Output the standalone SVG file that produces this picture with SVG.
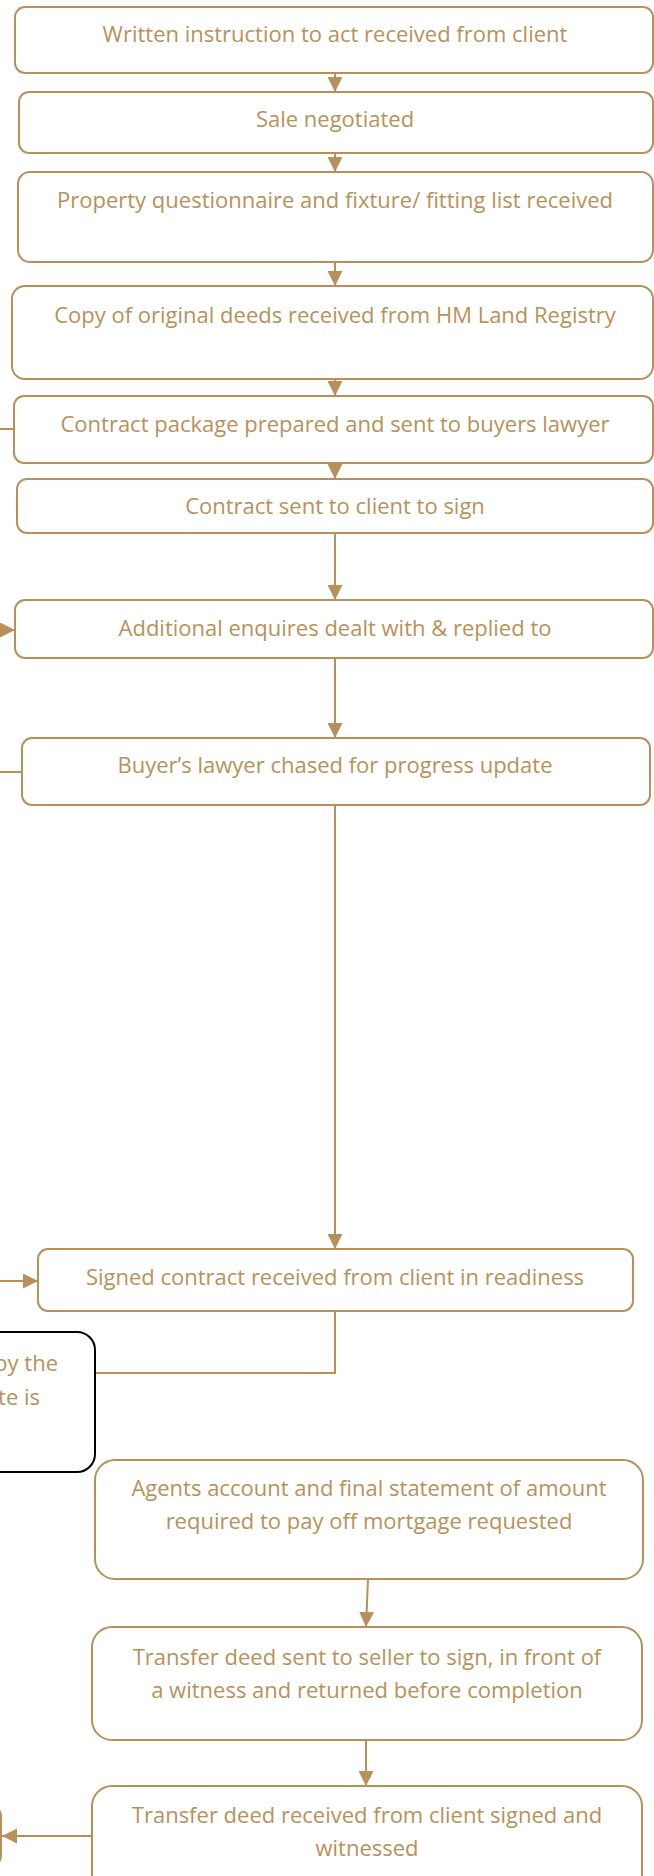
<svg xmlns="http://www.w3.org/2000/svg" width="654" height="1876" viewBox="0 0 654 1876">
<style>
.box{fill:#fff;stroke:#b8915a;stroke-width:2}
.blk{fill:#fff;stroke:#000;stroke-width:2}
.t{font-family:"Open Sans","Liberation Sans",sans-serif;font-size:22px;fill:#b8915a;text-anchor:middle}
.c{fill:none;stroke:#b8915a;stroke-width:2}
</style>
<defs>
<marker id="ah" viewBox="0 0 10 10" refX="10" refY="5" markerWidth="7.5" markerHeight="7.5" markerUnits="strokeWidth" orient="auto">
<path d="M0,0 L10,5 L0,10 z" fill="#b8915a"/>
</marker>
</defs>
<rect width="654" height="1876" fill="#fff"/>
<g id="connectors">
<line class="c" x1="335" y1="73" x2="335" y2="92" marker-end="url(#ah)"/>
<line class="c" x1="335" y1="153" x2="335" y2="172" marker-end="url(#ah)"/>
<line class="c" x1="335" y1="262" x2="335" y2="286" marker-end="url(#ah)"/>
<line class="c" x1="335" y1="379" x2="335" y2="396" marker-end="url(#ah)"/>
<line class="c" x1="335" y1="463" x2="335" y2="479" marker-end="url(#ah)"/>
<line class="c" x1="335" y1="533" x2="335" y2="600" marker-end="url(#ah)"/>
<line class="c" x1="335" y1="658" x2="335" y2="738" marker-end="url(#ah)"/>
<line class="c" x1="335" y1="805" x2="335" y2="1249" marker-end="url(#ah)"/>
<polyline class="c" points="335,1311 335,1373 95,1373"/>
<line class="c" x1="368" y1="1579" x2="366" y2="1627" marker-end="url(#ah)"/>
<line class="c" x1="366" y1="1740" x2="366" y2="1786" marker-end="url(#ah)"/>
<line class="c" x1="0" y1="429" x2="14" y2="429"/>
<line class="c" x1="0" y1="630" x2="15" y2="630" marker-end="url(#ah)"/>
<line class="c" x1="0" y1="772" x2="22" y2="772"/>
<line class="c" x1="0" y1="1281" x2="38" y2="1281" marker-end="url(#ah)"/>
<line class="c" x1="92" y1="1836" x2="2" y2="1836" marker-end="url(#ah)"/>
</g>
<g id="n1"><rect class="box" x="15" y="7" width="638" height="66" rx="10"/><text class="t" x="335" y="42">Written instruction to act received from client</text></g>
<g id="n2"><rect class="box" x="19" y="92" width="634" height="61" rx="10"/><text class="t" x="335" y="127">Sale negotiated</text></g>
<g id="n3"><rect class="box" x="18" y="172" width="635" height="90" rx="12"/><text class="t" x="335" y="208">Property questionnaire and fixture/ fitting list received</text></g>
<g id="n4"><rect class="box" x="12" y="286" width="641" height="93" rx="13"/><text class="t" x="335" y="323">Copy of original deeds received from HM Land Registry</text></g>
<g id="n5"><rect class="box" x="14" y="396" width="639" height="67" rx="10"/><text class="t" x="335" y="432">Contract package prepared and sent to buyers lawyer</text></g>
<g id="n6"><rect class="box" x="17" y="479" width="636" height="54" rx="10"/><text class="t" x="335" y="514">Contract sent to client to sign</text></g>
<g id="n7"><rect class="box" x="15" y="600" width="638" height="58" rx="10"/><text class="t" x="335" y="636">Additional enquires dealt with &amp; replied to</text></g>
<g id="n8"><rect class="box" x="22" y="738" width="628" height="67" rx="10"/><text class="t" x="335" y="773">Buyer’s lawyer chased for progress update</text></g>
<g id="n9"><rect class="box" x="38" y="1249" width="595" height="62" rx="10"/><text class="t" x="335" y="1285">Signed contract received from client in readiness</text></g>
<g id="n_black"><rect class="blk" x="-200" y="1332" width="295" height="140" rx="18"/><text class="t" x="58" y="1371" style="text-anchor:end">by the</text><text class="t" x="40" y="1405" style="text-anchor:end">te is</text></g>
<g id="n10"><rect class="box" x="95" y="1460" width="548" height="119" rx="20"/><text class="t" x="369" y="1496">Agents account and final statement of amount</text><text class="t" x="369" y="1529">required to pay off mortgage requested</text></g>
<g id="n11"><rect class="box" x="92" y="1627" width="550" height="113" rx="20"/><text class="t" x="367" y="1665">Transfer deed sent to seller to sign, in front of</text><text class="t" x="367" y="1698">a witness and returned before completion</text></g>
<g id="n12"><rect class="box" x="92" y="1786" width="550" height="120" rx="20"/><text class="t" x="367" y="1823">Transfer deed received from client signed and</text><text class="t" x="367" y="1856">witnessed</text></g>
<g id="n_left"><rect class="box" x="-100" y="1806" width="101" height="60" rx="10"/></g>
</svg>
